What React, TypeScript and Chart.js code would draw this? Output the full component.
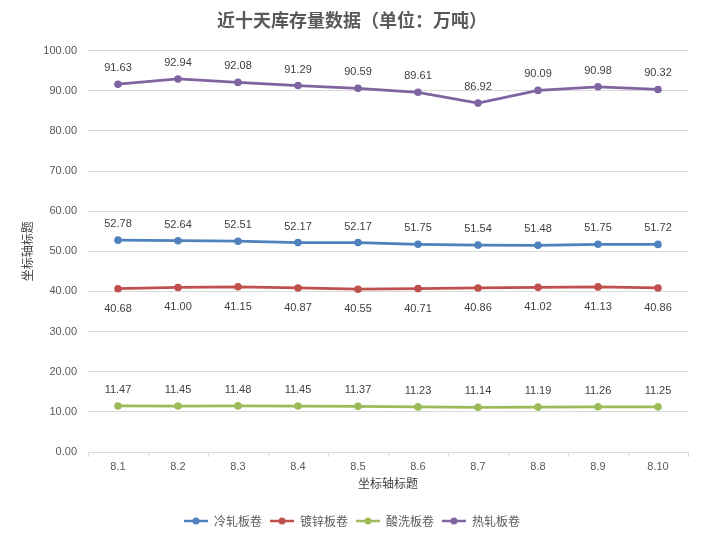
import React, { useEffect, useRef } from "react";
import { Chart, registerables } from "chart.js";

Chart.register(...registerables);

const categories = ["8.1", "8.2", "8.3", "8.4", "8.5", "8.6", "8.7", "8.8", "8.9", "8.10"];
const coldRolled = [52.78, 52.64, 52.51, 52.17, 52.17, 51.75, 51.54, 51.48, 51.75, 51.72];
const galvanized = [40.68, 41.0, 41.15, 40.87, 40.55, 40.71, 40.86, 41.02, 41.13, 40.86];
const pickled = [11.47, 11.45, 11.48, 11.45, 11.37, 11.23, 11.14, 11.19, 11.26, 11.25];
const hotRolled = [91.63, 92.94, 92.08, 91.29, 90.59, 89.61, 86.92, 90.09, 90.98, 90.32];
const seriesNames = ["冷轧板卷", "镀锌板卷", "酸洗板卷", "热轧板卷"];
const seriesColors = ["#4F81BD", "#C0504D", "#9BBB59", "#8064A2"];
const labelBelow = [false, true, false, false];

const NUM_FONT = "'Liberation Sans', 'Noto Sans CJK SC', sans-serif";
const CJK_FONT = "'Noto Sans CJK SC', sans-serif";

function makeLegendIcon(color: string) {
  const c = document.createElement("canvas");
  c.width = 24;
  c.height = 8;
  const ctx = c.getContext("2d")!;
  ctx.strokeStyle = color;
  ctx.lineWidth = 2.5;
  ctx.beginPath();
  ctx.moveTo(0, 4);
  ctx.lineTo(24, 4);
  ctx.stroke();
  ctx.fillStyle = color;
  ctx.beginPath();
  ctx.arc(12, 4, 3.5, 0, Math.PI * 2);
  ctx.fill();
  return c;
}

const dataLabelPlugin = {
  id: "dataLabels",
  afterDatasetsDraw(chart: any) {
    const ctx = chart.ctx;
    ctx.save();
    ctx.font = `11px ${NUM_FONT}`;
    ctx.fillStyle = "#404040";
    ctx.textAlign = "center";
    ctx.textBaseline = "middle";
    chart.data.datasets.forEach((ds: any, i: number) => {
      const meta = chart.getDatasetMeta(i);
      meta.data.forEach((pt: any, j: number) => {
        const v = ds.data[j] as number;
        const dy = labelBelow[i] ? 20 : -16;
        ctx.fillText(v.toFixed(2), pt.x, pt.y + dy);
      });
    });
    ctx.restore();
  },
};

export default function App() {
  const ref = useRef<HTMLCanvasElement | null>(null);
  useEffect(() => {
    if (!ref.current) return;
    const allData = [coldRolled, galvanized, pickled, hotRolled];
    const chart = new Chart(ref.current, {
      type: "line",
      data: {
        labels: categories,
        datasets: allData.map((d, i) => ({
          label: seriesNames[i],
          data: d,
          borderColor: seriesColors[i],
          backgroundColor: seriesColors[i],
          borderWidth: 2.75,
          pointRadius: 3.8,
          pointHoverRadius: 3.8,
          pointBorderWidth: 0,
          pointStyle: "circle",
          tension: 0,
        })),
      },
      options: {
        animation: false,
        responsive: false,
        devicePixelRatio: 1,
        layout: { padding: { left: 16, right: 15, top: 0, bottom: 1 } },
        plugins: {
          title: {
            display: true,
            text: "近十天库存量数据（单位：万吨）",
            color: "#595959",
            font: { family: CJK_FONT, size: 18, weight: "bold" },
            padding: { top: 9, bottom: 20 },
          },
          legend: {
            position: "bottom",
            labels: {
              usePointStyle: true,
              pointStyleWidth: 24,
              padding: 8,
              color: "#595959",
              font: { family: CJK_FONT, size: 12 },
              generateLabels: (ch: any) =>
                ch.data.datasets.map((ds: any, i: number) => ({
                  text: ds.label,
                  fillStyle: seriesColors[i],
                  strokeStyle: seriesColors[i],
                  lineWidth: 0,
                  pointStyle: makeLegendIcon(seriesColors[i]),
                  fontColor: "#595959",
                  hidden: false,
                  datasetIndex: i,
                })),
            },
          },
          tooltip: { enabled: false },
        },
        scales: {
          x: {
            offset: true,
            grid: {
              offset: true,
              drawOnChartArea: false,
              drawTicks: true,
              tickLength: 5,
              color: "#D9D9D9",
            },
            border: { display: true, color: "#D9D9D9" },
            ticks: {
              color: "#595959",
              font: { family: NUM_FONT, size: 11 },
              padding: 3,
              maxRotation: 0,
            },
            title: {
              display: true,
              text: "坐标轴标题",
              color: "#404040",
              font: { family: CJK_FONT, size: 12 },
              padding: { top: 2, bottom: 16 },
            },
            afterFit: (scale: any) => {
              scale.height = 55;
            },
          },
          y: {
            min: 0,
            max: 100,
            ticks: {
              stepSize: 10,
              color: "#595959",
              font: { family: NUM_FONT, size: 11 },
              padding: 11,
              callback: (v: any) => Number(v).toFixed(2),
            },
            grid: { color: "#D9D9D9", drawTicks: false },
            border: { display: false },
            title: {
              display: true,
              text: "坐标轴标题",
              color: "#404040",
              font: { family: CJK_FONT, size: 12 },
              padding: { top: 4, bottom: 4 },
            },
            afterFit: (scale: any) => {
              scale.width = 72;
            },
          },
        },
      },
      plugins: [dataLabelPlugin],
    });
    return () => chart.destroy();
  }, []);
  return (
    <div style={{ position: "absolute", left: 0, top: 0, width: 703, height: 538, background: "#fff" }}>
      <canvas ref={ref} width={703} height={538} style={{ width: 703, height: 538 }} />
    </div>
  );
}
